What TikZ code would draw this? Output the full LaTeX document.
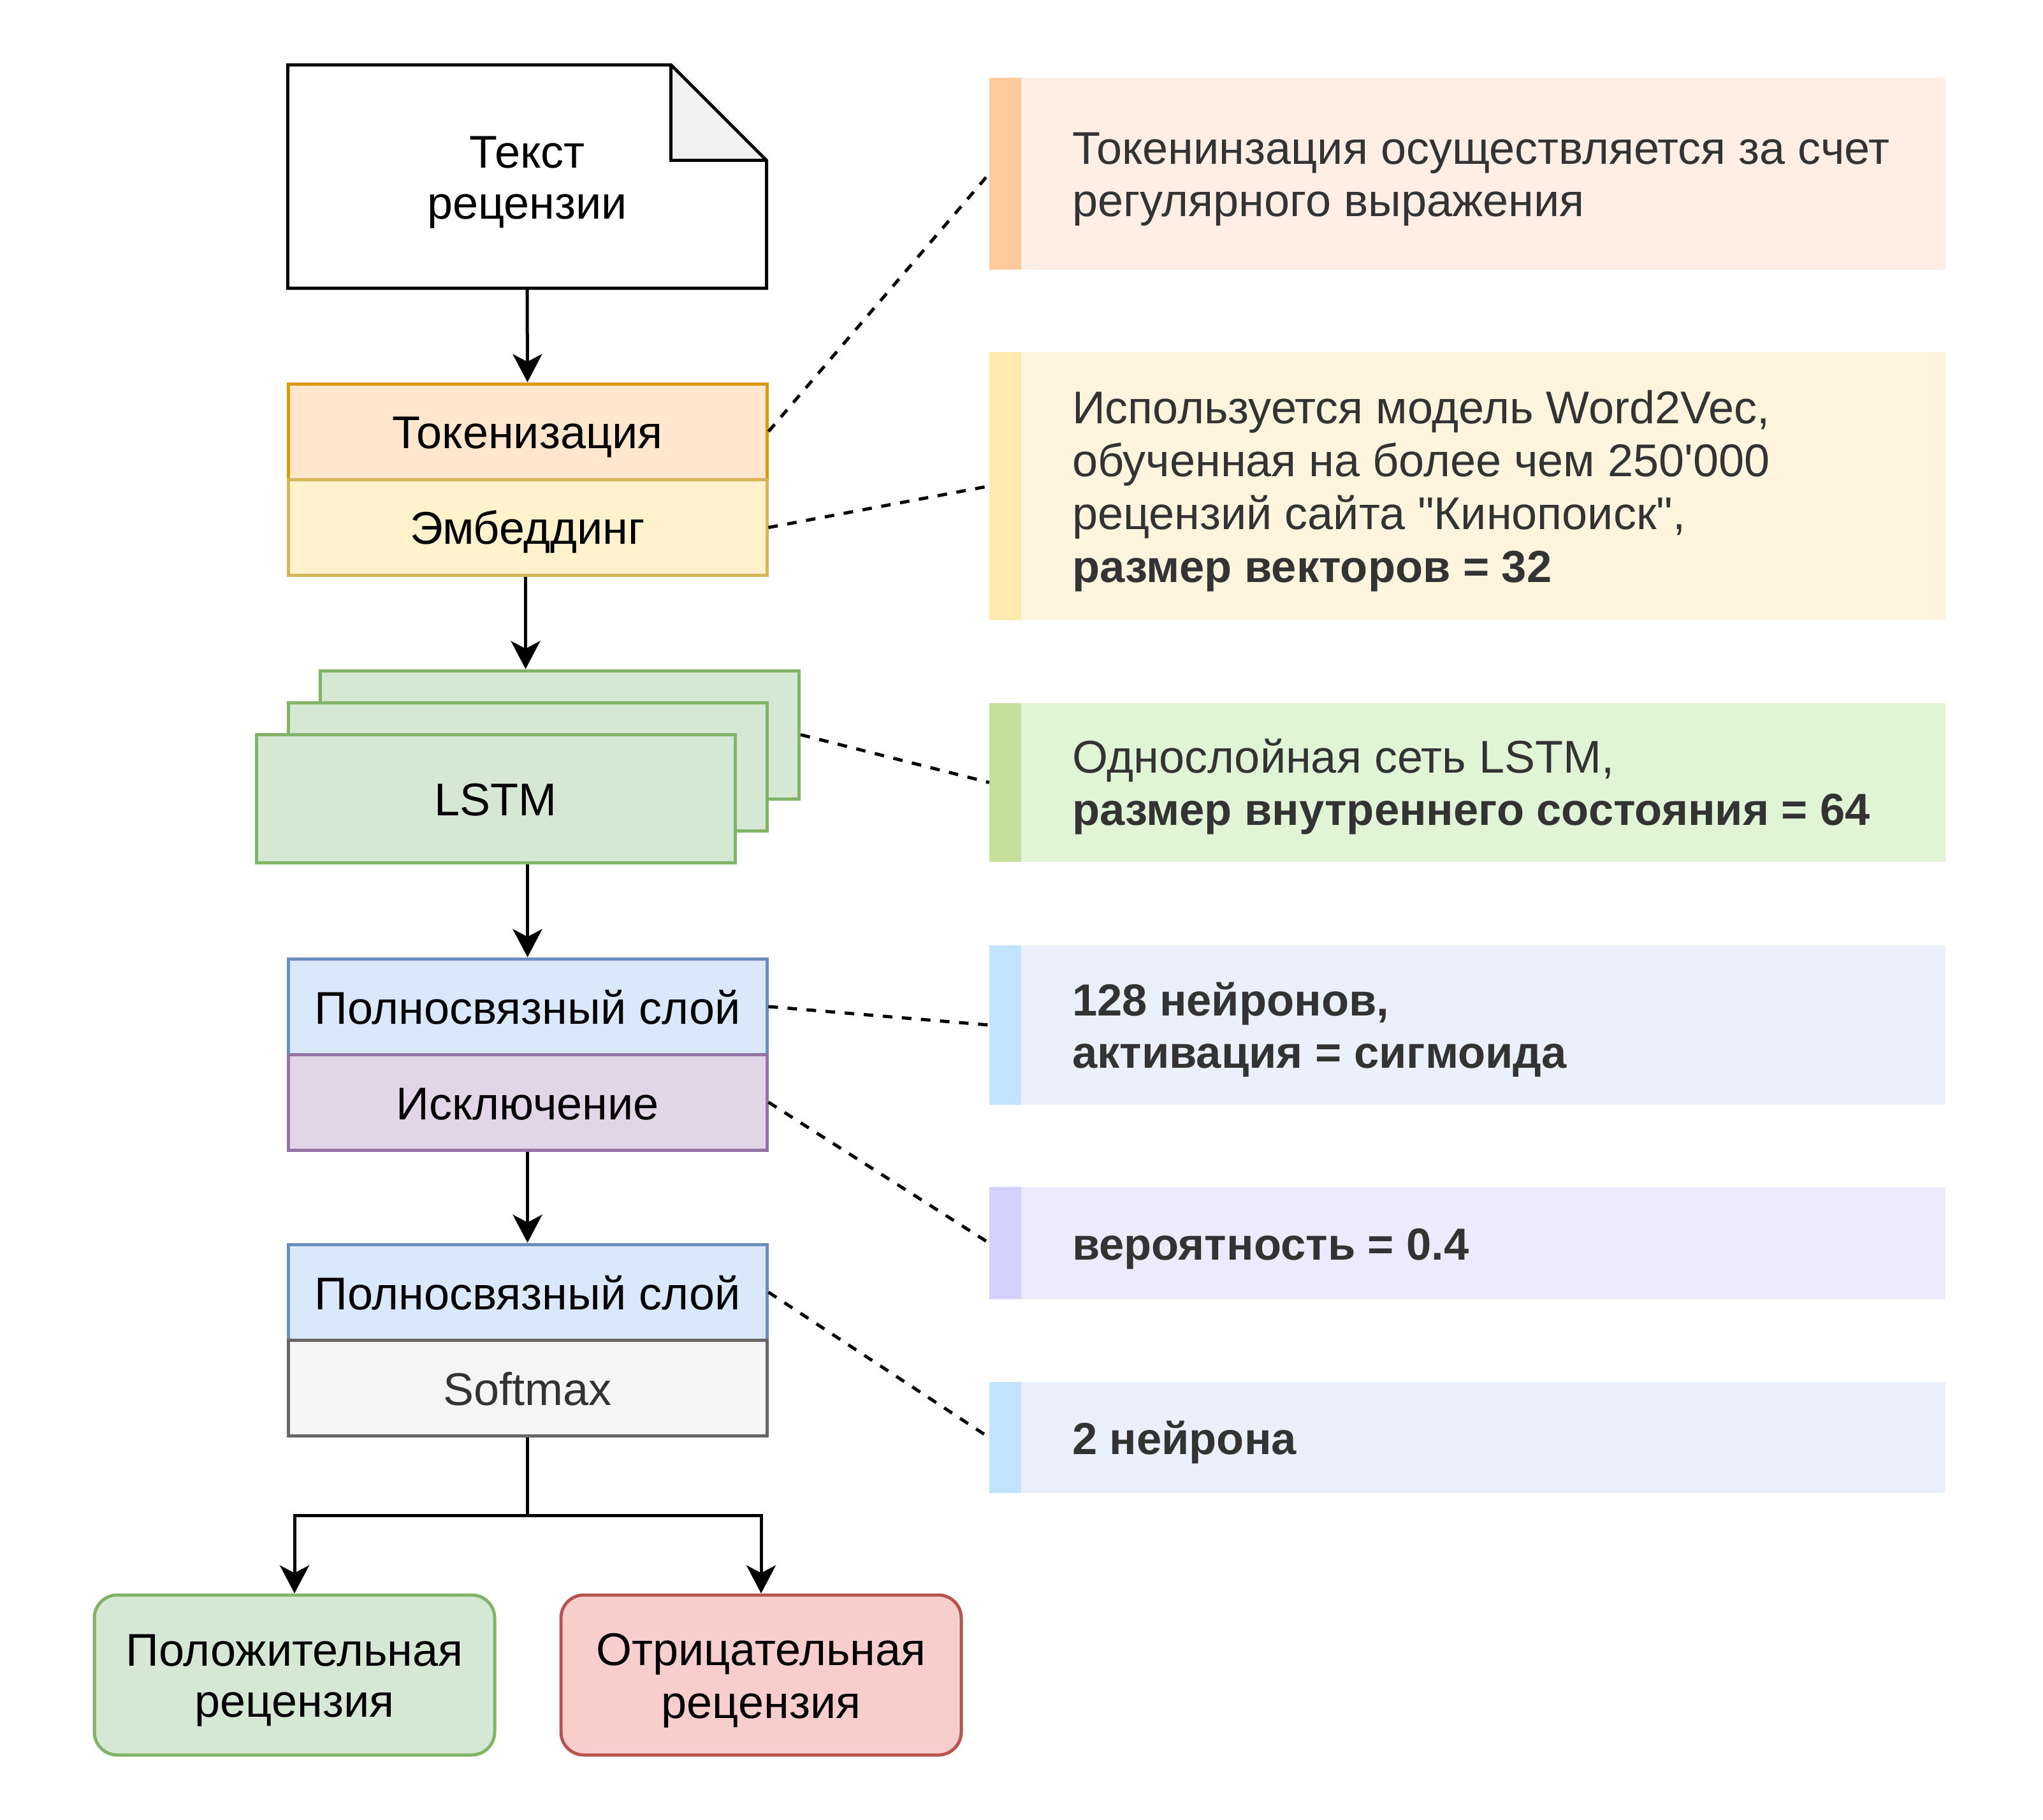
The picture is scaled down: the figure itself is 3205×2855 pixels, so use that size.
\documentclass[tikz,border=0pt]{standalone}
\usepackage{fontspec}
\setmainfont{Liberation Sans}
\usetikzlibrary{arrows.meta}
\definecolor{tokfill}{HTML}{FFE6CC}\definecolor{tokdraw}{HTML}{D79B00}
\definecolor{embfill}{HTML}{FFF2CC}\definecolor{embdraw}{HTML}{D6B656}
\definecolor{grfill}{HTML}{D5E8D4}\definecolor{grdraw}{HTML}{82B366}
\definecolor{blfill}{HTML}{DAE8FC}\definecolor{bldraw}{HTML}{6C8EBF}
\definecolor{vifill}{HTML}{E1D5E7}\definecolor{vidraw}{HTML}{9673A6}
\definecolor{gyfill}{HTML}{F5F5F5}\definecolor{gydraw}{HTML}{666666}
\definecolor{rdfill}{HTML}{F8CECC}\definecolor{rddraw}{HTML}{B85450}
\definecolor{txtgray}{HTML}{333333}
\definecolor{foldfill}{HTML}{F1F1F1}
\definecolor{naBody}{HTML}{FFEEE3}\definecolor{naStripe}{HTML}{FFCA99}
\definecolor{nbBody}{HTML}{FFF5DE}\definecolor{nbStripe}{HTML}{FFE9AD}
\definecolor{ncBody}{HTML}{DFF5D6}\definecolor{ncStripe}{HTML}{C5E09B}
\definecolor{ndBody}{HTML}{EAF1FD}\definecolor{ndStripe}{HTML}{C2E3FD}
\definecolor{neBody}{HTML}{EDEAFD}\definecolor{neStripe}{HTML}{D4D2FD}
\newcommand\rsfont{\fontsize{72}{80}\selectfont}
\newcommand\rsS{\rule[-13pt]{0pt}{80pt}}
\newcommand\rsB[1]{{\fontsize{70.5}{80}\selectfont\bfseries #1}}
\begin{document}
\begin{tikzpicture}[x=1pt,y=-1pt,
  box/.style={rectangle, minimum width=751pt, minimum height=150pt, inner sep=0pt, line width=5pt, font=\rsfont, align=center},
  lstmbox/.style={rectangle, minimum width=751pt, minimum height=201pt, inner sep=0pt, line width=5pt, fill=grfill, draw=grdraw, font=\rsfont, align=center},
  outbox/.style={rectangle, rounded corners=36pt, minimum width=628pt, minimum height=251pt, inner sep=0pt, line width=5pt, font=\rsfont, align=center},
  notebody/.style={rectangle, minimum width=1500pt, inner sep=0pt, draw=none},
  notetext/.style={anchor=west, inner sep=0pt, font=\rsfont, text=txtgray, align=left},
  arr/.style={line width=5pt, -{Stealth[length=44pt,width=46pt,inset=12pt]}},
  conn/.style={line width=5pt},
  dashline/.style={line width=5pt, dash pattern=on 15pt off 15pt}
]
\useasboundingbox[fill=white] (0,0) rectangle (3205,2855);

% document shape
\node[rectangle, minimum width=751pt, minimum height=350pt, inner sep=0pt, draw=none] (doc) at (827,277) {};
\fill[white] (doc.north west) -- ([xshift=-150pt]doc.north east) -- ([yshift=-150pt]doc.north east) -- (doc.south east) -- (doc.south west) -- cycle;
\fill[foldfill] ([xshift=-150pt]doc.north east) -- ([xshift=-150pt,yshift=-150pt]doc.north east) -- ([yshift=-150pt]doc.north east) -- cycle;
\draw[line width=5pt, line join=miter] (doc.north west) -- ([xshift=-150pt]doc.north east) -- ([yshift=-150pt]doc.north east) -- (doc.south east) -- (doc.south west) -- cycle;
\draw[line width=5pt, line join=miter] ([xshift=-150pt]doc.north east) -- ([xshift=-150pt,yshift=-150pt]doc.north east) -- ([yshift=-150pt]doc.north east);
\node[inner sep=0pt, font=\rsfont, align=center] (doctext) at (doc.center) {\rsS Текст\\\rsS рецензии};

% tokenization / embedding
\node[box, fill=tokfill, draw=tokdraw] (tok) at (827.5,677) {\rsS Токенизация};
\node[box, fill=embfill, draw=embdraw] (emb) at (827.5,827.5) {\rsS Эмбеддинг};

% LSTM stack
\node[lstmbox] (lstmc) at (878,1152.5) {};
\node[lstmbox] (lstmb) at (827.5,1202.5) {};
\node[lstmbox] (lstma) at (777.5,1252.5) {\rsS LSTM};

% dense + dropout
\node[box, fill=blfill, draw=bldraw] (fc1) at (827.5,1579) {\rsS Полносвязный слой};
\node[box, fill=vifill, draw=vidraw] (drop) at (827.5,1729) {\rsS Исключение};

% dense + softmax
\node[box, fill=blfill, draw=bldraw] (fc2) at (827.5,2027) {\rsS Полносвязный слой};
\node[box, fill=gyfill, draw=gydraw, text=txtgray] (soft) at (827.5,2177) {\rsS Softmax};

% outcomes
\node[outbox, fill=grfill, draw=grdraw] (pos) at (462,2627.5) {\rsS Положительная\\\rsS рецензия};
\node[outbox, fill=rdfill, draw=rddraw] (neg) at (1194,2627.5) {\rsS Отрицательная\\\rsS рецензия};

% arrows
\draw[arr] (doc.south) -- (tok.north);
\draw[arr] ([xshift=-3pt]emb.south) -- ([xshift=-3pt]emb.south |- lstmc.north);
\draw[arr] (fc1.north |- lstma.south) -- (fc1.north);
\draw[arr] (drop.south) -- (fc2.north);
\coordinate (split) at (827.5,2377);
\draw[conn] (soft.south) -- (split);
\draw[arr] (split) -| (pos.north);
\draw[arr] (split) -| (neg.north);

% notes
\node[notebody, fill=naBody, minimum height=301pt] (n1) at (2302,272.5) {};
\node[notebody, fill=nbBody, minimum height=421pt] (n2) at (2302,762.5) {};
\node[notebody, fill=ncBody, minimum height=249pt] (n3) at (2302,1227.5) {};
\node[notebody, fill=ndBody, minimum height=250pt] (n4) at (2302,1608) {};
\node[notebody, fill=neBody, minimum height=176pt] (n5) at (2302,1950) {};
\node[notebody, fill=ndBody, minimum height=174pt] (n6) at (2302,2255) {};
\fill[naStripe] (n1.north west) rectangle ([xshift=50pt]n1.south west);
\fill[nbStripe] (n2.north west) rectangle ([xshift=50pt]n2.south west);
\fill[ncStripe] (n3.north west) rectangle ([xshift=50pt]n3.south west);
\fill[ndStripe] (n4.north west) rectangle ([xshift=50pt]n4.south west);
\fill[neStripe] (n5.north west) rectangle ([xshift=50pt]n5.south west);
\fill[ndStripe] (n6.north west) rectangle ([xshift=50pt]n6.south west);

\node[notetext] (t1) at ([xshift=130pt]n1.west) {\rsS Токенинзация осуществляется за счет\\\rsS регулярного выражения};
\node[notetext] (t2) at ([xshift=130pt]n2.west) {\rsS Используется модель Word2Vec,\\\rsS обученная на более чем 250\textquotesingle 000\\\rsS рецензий сайта \textquotedbl Кинопоиск\textquotedbl ,\\\rsS\rsB{размер векторов = 32}};
\node[notetext] (t3) at ([xshift=130pt]n3.west) {\rsS Однослойная сеть LSTM,\\\rsS\rsB{размер внутреннего состояния = 64}};
\node[notetext] (t4) at ([xshift=130pt]n4.west) {\rsS\rsB{128 нейронов,}\\\rsS\rsB{активация = сигмоида}};
\node[notetext] (t5) at ([xshift=130pt]n5.west) {\rsS\rsB{вероятность = 0.4}};
\node[notetext] (t6) at ([xshift=130pt]n6.west) {\rsS\rsB{2 нейрона}};

% dashed connectors
\draw[dashline] (tok.east) -- (n1.west);
\draw[dashline] (emb.east) -- (n2.west);
\draw[dashline] (lstmc.east) -- (n3.west);
\draw[dashline] (fc1.east) -- (n4.west);
\draw[dashline] (drop.east) -- (n5.west);
\draw[dashline] (fc2.east) -- (n6.west);
\end{tikzpicture}
\end{document}
